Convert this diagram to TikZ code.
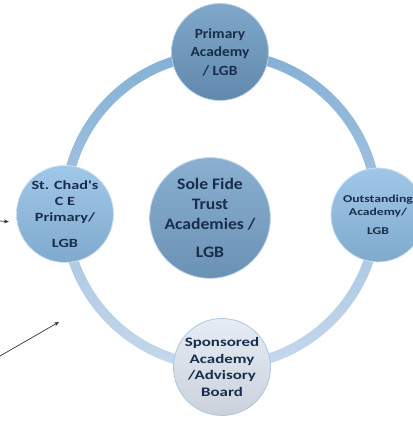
\documentclass[tikz,border=0pt]{standalone}
\usepackage{fontspec}
\setmainfont{Carlito}
\newfontfamily\midfont[FakeStretch=1.1]{Carlito}
\newfontfamily\widefont[FakeStretch=1.3]{Carlito}
\usetikzlibrary{arrows.meta}

\definecolor{ringtop}{RGB}{132,176,213}
\definecolor{ringbot}{RGB}{198,216,236}
\definecolor{steel}{RGB}{106,152,192}
\definecolor{hubblue}{RGB}{118,162,200}
\definecolor{skyblue}{RGB}{142,189,228}
\definecolor{paleblue}{RGB}{226,233,243}
\definecolor{inktext}{RGB}{26,44,76}

\tikzset{
    member/.style={circle, draw=white!55!#1, line width=0.8pt, align=center,
        text=inktext, inner sep=0pt, minimum size=97pt,
        top color=#1!85!white, bottom color=#1!90!black},
    hub/.style={member=hubblue, minimum size=114pt,
        font=\midfont\bfseries\fontsize{16}{20}\selectfont},
    pointer/.style={-{Stealth[length=5pt,width=4pt]}, line width=0.7pt, black!80}
}

\begin{document}
\begin{tikzpicture}[x=1pt, y=-1pt]
    \useasboundingbox (0,0) rectangle (412,425);

    % Ring through the member schools
    \coordinate (centre) at (221,210);
    \shade[even odd rule, top color=ringtop, bottom color=ringbot]
        (centre) circle (161) (centre) circle (151);

    % Trust in the middle
    \node[hub] (trust) at (210,218) {Sole Fide\\Trust\\Academies /\\[8pt]LGB};

    % Schools on the ring
    \node[member=steel, font=\midfont\bfseries\fontsize{14}{18.5}\selectfont] (primary) at (220,52)
        {Primary\\Academy\\/ LGB};
    \node[member=skyblue, font=\widefont\bfseries\fontsize{12.5}{16}\selectfont] (chad) at (65,214)
        {St. Chad's\\C E\\Primary/\\[10pt]LGB};
    \node[member=skyblue, minimum size=94pt, font=\widefont\bfseries\fontsize{10.5}{13}\selectfont] (outstanding) at (378,215)
        {Outstanding\\Academy/\\[6pt]LGB};
    \node[member=paleblue, draw=ringtop!70, font=\widefont\bfseries\fontsize{13}{16.5}\selectfont] (sponsored) at (222,367)
        {Sponsored\\Academy\\/Advisory\\Board};

    % Arrows coming in from the left
    \coordinate (inA) at (0,221);
    \coordinate (inB) at (0,356);
    \coordinate (tipB) at (59,322);
    \draw[pointer, shorten >=8pt] (inA) -- (chad.190);
    \draw[pointer] (inB) -- (tipB);
\end{tikzpicture}
\end{document}
